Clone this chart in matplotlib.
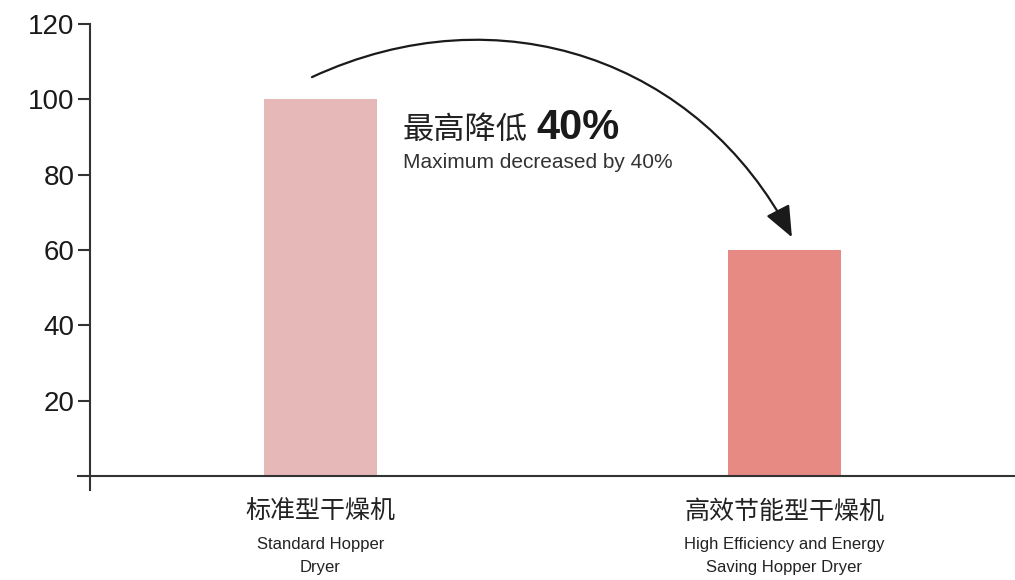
import matplotlib.pyplot as plt
from matplotlib.patches import FancyArrowPatch
from matplotlib.path import Path

plt.rcParams['font.family'] = ['Liberation Sans', 'Noto Sans CJK SC', 'DejaVu Sans']

categories_cn = ['标准型干燥机', '高效节能型干燥机']
categories_en = ['Standard Hopper\nDryer', 'High Efficiency and Energy\nSaving Hopper Dryer']
values = [100, 60]
colors = ['#e6b8b8', '#e88a84']
yticks = [20, 40, 60, 80, 100, 120]

fig = plt.figure(figsize=(10.15, 5.8), dpi=100)
ax = fig.add_axes([0.0768, 0.155, 0.9232, 0.8036])

x = list(range(len(values)))
ax.bar(x, values, width=0.243, color=colors, zorder=2)

ax.set_xlim(-0.5226, 1.497)
ax.set_ylim(-3.7, 120)

for s in ['top', 'right']:
    ax.spines[s].set_visible(False)
ax.spines['bottom'].set_position(('data', 0))
ax.spines['left'].set_position(('data', -0.4968))
ax.spines['left'].set_bounds(-3.7, 120)
for s in ['bottom', 'left']:
    ax.spines[s].set_color('#333333')
    ax.spines[s].set_linewidth(1.5)

ax.set_xticks([])
ax.set_yticks(yticks)
ax.set_yticklabels([str(v) for v in yticks], fontsize=20, color='#1a1a1a')
ax.tick_params(axis='y', length=9, width=1.5, color='#333333', pad=2)

# category labels
xt = ax.get_xaxis_transform()
for i in x:
    ax.text(i, -0.047, categories_cn[i], transform=xt, ha='center', va='center',
            fontsize=18, color='#222222', family=['Noto Sans CJK SC', 'DejaVu Sans'])
    ax.text(i, -0.142, categories_en[i], transform=xt, ha='center', va='center',
            fontsize=12, color='#222222', linespacing=1.65)

# annotation
ax.text(0.178, 92, '最高降低', ha='left', va='center', fontsize=22.5, color='#222222',
        family=['Noto Sans CJK SC', 'DejaVu Sans'])
ax.text(0.466, 92.5, '40%', ha='left', va='center', fontsize=30, fontweight='bold',
        color='#1a1a1a')
ax.text(0.178, 83.2, 'Maximum decreased by 40%', ha='left', va='center',
        fontsize=15, color='#333333')

arc = Path([(-0.0183, 105.9), (0.3869, 129.0), (0.8179, 110.4), (1.0162, 63.4)],
           [Path.MOVETO, Path.CURVE4, Path.CURVE4, Path.CURVE4])
arrow = FancyArrowPatch(path=arc, arrowstyle='-|>,head_length=1.2,head_width=0.5',
                        mutation_scale=16, color='#1a1a1a', lw=1.6, clip_on=False)
ax.add_patch(arrow)

fig.savefig('out.png', dpi=100)
